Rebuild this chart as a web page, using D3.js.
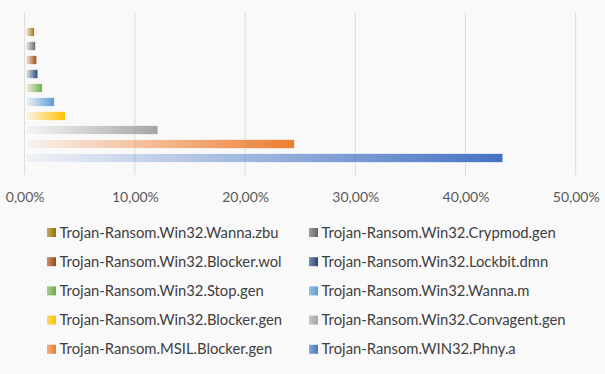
<!DOCTYPE html>
<html>
<head>
<meta charset="utf-8">
<script src="https://cdn.jsdelivr.net/npm/d3@7"></script>
<style>
  html, body { margin: 0; padding: 0; background: #f9f9f9; }
  text { font-family: Lato, "Liberation Sans", sans-serif; }
</style>
</head>
<body>
<div id="plot"></div>
<script>
// Chart size
const width = 605;
const height = 374;

// Data (top to bottom as shown in the chart)
const labels = [
  "Trojan-Ransom.Win32.Wanna.zbu",
  "Trojan-Ransom.Win32.Crypmod.gen",
  "Trojan-Ransom.Win32.Blocker.wol",
  "Trojan-Ransom.Win32.Lockbit.dmn",
  "Trojan-Ransom.Win32.Stop.gen",
  "Trojan-Ransom.Win32.Wanna.m",
  "Trojan-Ransom.Win32.Blocker.gen",
  "Trojan-Ransom.Win32.Convagent.gen",
  "Trojan-Ransom.MSIL.Blocker.gen",
  "Trojan-Ransom.WIN32.Phny.a"
];
const shares = [0.9, 1.0, 1.1, 1.2, 1.6, 2.7, 3.7, 12.1, 24.5, 43.4];
const colors = ["#997300", "#636363", "#9e480e", "#264478", "#70ad47",
                "#5b9bd5", "#ffc000", "#a5a5a5", "#ed7d31", "#4472c4"];
const ticks = [0, 10, 20, 30, 40, 50];

const data = labels.map((d, i) => ({ name: d, value: shares[i], color: colors[i] }));

const svg = d3.select("#plot")
  .append("svg")
  .attr("width", width)
  .attr("height", height);

svg.append("rect")
  .attr("width", width)
  .attr("height", height)
  .attr("fill", "#f9f9f9");

// Scales
const x = d3.scaleLinear().domain([0, 50]).range([24.7, 575.7]);
const y = d3.scaleBand()
  .domain(labels)
  .range([25, 165])
  .paddingInner(0.33)
  .paddingOuter(0.165);

// Gradients: fade from transparent on the left to full colour on the right
const defs = svg.append("defs");
data.forEach((d, i) => {
  const grad = defs.append("linearGradient")
    .attr("id", "grad" + i)
    .attr("x1", 0).attr("x2", 1).attr("y1", 0).attr("y2", 0);
  grad.append("stop").attr("offset", "0%").attr("stop-color", d.color).attr("stop-opacity", 0.05);
  grad.append("stop").attr("offset", "100%").attr("stop-color", d.color).attr("stop-opacity", 1);

  // softer version for the legend keys
  const key = defs.append("linearGradient")
    .attr("id", "key" + i)
    .attr("x1", 0).attr("x2", 1).attr("y1", 0).attr("y2", 0);
  key.append("stop").attr("offset", "0%").attr("stop-color", d.color).attr("stop-opacity", 0.6);
  key.append("stop").attr("offset", "100%").attr("stop-color", d.color).attr("stop-opacity", 1);
});

// Gridlines
svg.append("g")
  .selectAll("line")
  .data(ticks)
  .enter().append("line")
  .attr("x1", d => x(d))
  .attr("x2", d => x(d))
  .attr("y1", 13)
  .attr("y2", 175)
  .attr("stroke", "#d9d9d9")
  .attr("stroke-width", 1);

// Bars
svg.append("g")
  .selectAll("rect")
  .data(data)
  .enter().append("rect")
  .attr("x", x(0) + 1)
  .attr("y", d => y(d.name))
  .attr("width", d => x(d.value) - x(0) - 1)
  .attr("height", y.bandwidth())
  .attr("fill", (d, i) => `url(#grad${i})`)
  .attr("stroke", "#ffffff")
  .attr("stroke-width", 0.8);

// Axis labels
const xAxis = d3.axisBottom(x)
  .tickValues(ticks)
  .tickSize(0)
  .tickPadding(0)
  .tickFormat(d => d3.format(".2f")(d).replace(".", ",") + "%");

const axisG = svg.append("g")
  .attr("transform", "translate(0,191)")
  .call(xAxis);
axisG.select(".domain").remove();
axisG.selectAll("text")
  .attr("fill", "#595959")
  .style("font-size", "14px")
  .attr("dy", "0.75em");

// Legend, two columns
const legend = svg.append("g");
const item = legend.selectAll("g")
  .data(data)
  .enter().append("g")
  .attr("transform", (d, i) => `translate(${i % 2 === 0 ? 47 : 309}, ${232.5 + Math.floor(i / 2) * 29.2})`);

item.append("rect")
  .attr("x", 0)
  .attr("y", -4.5)
  .attr("width", 9)
  .attr("height", 9)
  .attr("fill", (d, i) => `url(#key${i})`);

item.append("text")
  .attr("x", 12.5)
  .attr("y", 0)
  .attr("dy", "0.35em")
  .attr("fill", "#404040")
  .style("font-size", "14.8px")
  .text(d => d.name);
</script>
</body>
</html>
